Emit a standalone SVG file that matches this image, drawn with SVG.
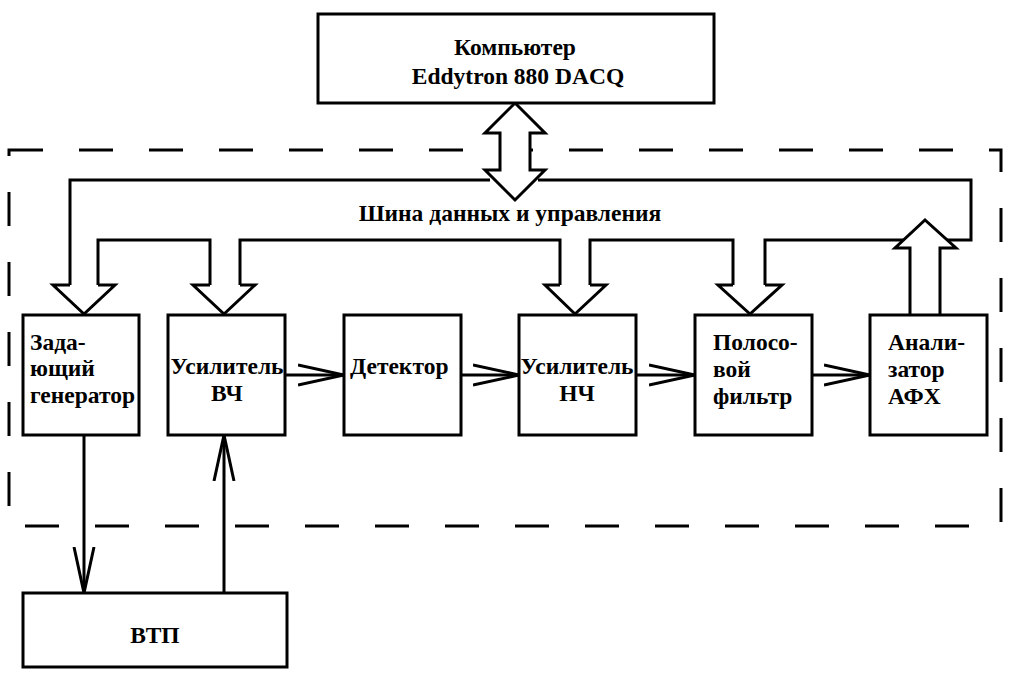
<svg xmlns="http://www.w3.org/2000/svg" width="1014" height="689" viewBox="0 0 1014 689">
<defs>
<style>
.b{fill:#fff;stroke:#000;stroke-width:3}
.l{fill:none;stroke:#000;stroke-width:3}
.t{font-family:"Liberation Serif",serif;font-weight:bold;font-size:23.5px;fill:#000}
.c{text-anchor:middle}
</style>
<marker id="oa" viewBox="0 0 46 24" refX="46" refY="12" markerWidth="46" markerHeight="24" markerUnits="userSpaceOnUse" orient="auto"><path d="M0 2 L46 12 L0 22" fill="none" stroke="#000" stroke-width="3"/></marker>
</defs>
<rect x="0" y="0" width="1014" height="689" fill="#fff"/>
<rect x="9" y="150" width="992" height="376" fill="none" stroke="#000" stroke-width="3" stroke-dasharray="34,36"/>
<g id="connectors">
<path class="l" d="M490 180 H70 V285 M538 180 H971 V240 H898 M98 285 V240 H210 V285 M240 285 V240 H560 V285 M590 285 V240 H733 V285 M765 285 V240 H898"/>
<path class="b" d="M70 285 H53 L84 314 L115 285 H98"/>
<path class="b" d="M210 285 H193 L224 314 L255 285 H240"/>
<path class="b" d="M560 285 H545 L575 314 L606 285 H590"/>
<path class="b" d="M733 285 H718 L750 314 L782 285 H765"/>
<path class="b" d="M910 315 V248 H895 L925 220 L956 248 H940 V315"/>
<path class="b" d="M515 103 L545 133 H530 V170 H545 L515 200 L485 170 H500 V133 H485 Z"/>
<path class="l" d="M285 375 H344" marker-end="url(#oa)"/>
<path class="l" d="M461 375 H519" marker-end="url(#oa)"/>
<path class="l" d="M636 375 H695" marker-end="url(#oa)"/>
<path class="l" d="M812 375 H870" marker-end="url(#oa)"/>
<path class="l" d="M84 435 V593" marker-end="url(#oa)"/>
<path class="l" d="M224 593 V435" marker-end="url(#oa)"/>
</g>
<text class="t c" x="510" y="221">Шина данных и управления</text>
<g id="computer"><rect class="b" x="318" y="14" width="396" height="89"/><text class="t c" x="515" y="55">Компьютер</text><text class="t c" x="518" y="84">Eddytron 880 DACQ</text></g>
<g id="gen"><rect class="b" x="23" y="315" width="116" height="120"/><text class="t" x="30" y="350">Зада-</text><text class="t" x="30" y="376">ющий</text><text class="t" x="30" y="403">генератор</text></g>
<g id="hf"><rect class="b" x="168" y="315" width="117" height="120"/><text class="t c" x="227" y="374">Усилитель</text><text class="t c" x="227" y="401">ВЧ</text></g>
<g id="det"><rect class="b" x="344" y="315" width="117" height="120"/><text class="t" x="350" y="374">Детектор</text></g>
<g id="lf"><rect class="b" x="519" y="315" width="117" height="120"/><text class="t c" x="577" y="374">Усилитель</text><text class="t c" x="577" y="401">НЧ</text></g>
<g id="bp"><rect class="b" x="695" y="315" width="117" height="120"/><text class="t" x="713" y="350">Полосо-</text><text class="t" x="713" y="377">вой</text><text class="t" x="713" y="404">фильтр</text></g>
<g id="an"><rect class="b" x="870" y="315" width="117" height="120"/><text class="t" x="888" y="350">Анали-</text><text class="t" x="888" y="377">затор</text><text class="t" x="888" y="404">АФХ</text></g>
<g id="vtp"><rect class="b" x="23" y="593" width="264" height="74"/><text class="t c" x="155" y="643">ВТП</text></g>
</svg>
